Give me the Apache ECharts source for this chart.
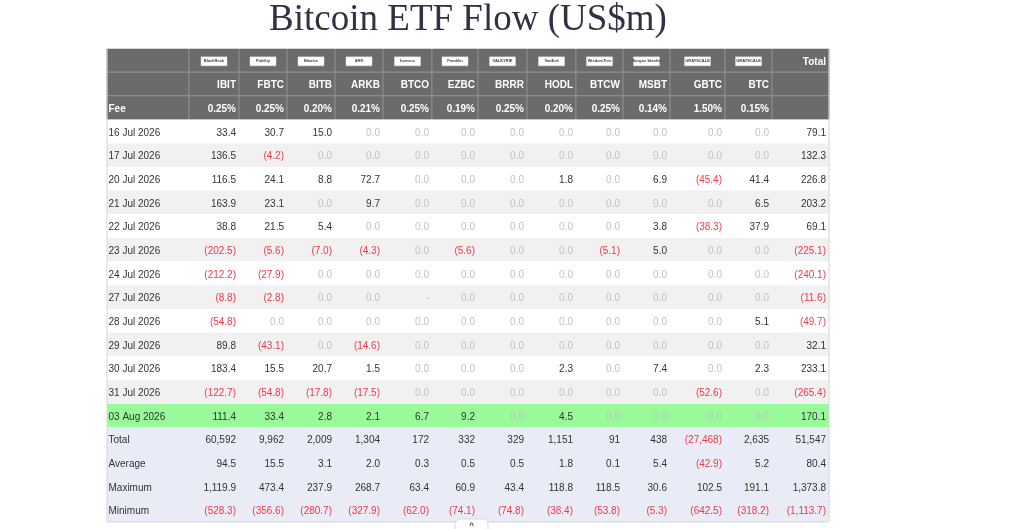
<!DOCTYPE html>
<html><head><meta charset="utf-8">
<script src="https://cdn.jsdelivr.net/npm/echarts/dist/echarts.min.js"></script>
<style>html,body{margin:0;padding:0;background:#fff}#main{width:1024px;height:529px}</style>
</head><body><div id="main"></div>
<script>
// ---------- DATA ----------
const tickers = ['IBIT','FBTC','BITB','ARKB','BTCO','EZBC','BRRR','HODL','BTCW','MSBT','GBTC','BTC'];
const issuers = ['BlackRock','Fidelity','Bitwise','ARK','Invesco','Franklin','VALKYRIE','VanEck','WisdomTree','Morgan Stanley','GRAYSCALE','GRAYSCALE'];
const fees = ['0.25%','0.25%','0.20%','0.21%','0.25%','0.19%','0.25%','0.20%','0.25%','0.14%','1.50%','0.15%'];
const dates = ['16 Jul 2026','17 Jul 2026','20 Jul 2026','21 Jul 2026','22 Jul 2026','23 Jul 2026','24 Jul 2026','27 Jul 2026','28 Jul 2026','29 Jul 2026','30 Jul 2026','31 Jul 2026','03 Aug 2026'];
// daily flows per ETF (US$m), one value per date; null = no data
const IBIT = [33.4, 136.5, 116.5, 163.9, 38.8, -202.5, -212.2, -8.8, -54.8, 89.8, 183.4, -122.7, 111.4];
const FBTC = [30.7, -4.2, 24.1, 23.1, 21.5, -5.6, -27.9, -2.8, 0, -43.1, 15.5, -54.8, 33.4];
const BITB = [15.0, 0, 8.8, 0, 5.4, -7.0, 0, 0, 0, 0, 20.7, -17.8, 2.8];
const ARKB = [0, 0, 72.7, 9.7, 0, -4.3, 0, 0, 0, -14.6, 1.5, -17.5, 2.1];
const BTCO = [0, 0, 0, 0, 0, 0, 0, null, 0, 0, 0, 0, 6.7];
const EZBC = [0, 0, 0, 0, 0, -5.6, 0, 0, 0, 0, 0, 0, 9.2];
const BRRR = [0, 0, 0, 0, 0, 0, 0, 0, 0, 0, 0, 0, 0];
const HODL = [0, 0, 1.8, 0, 0, 0, 0, 0, 0, 0, 2.3, 0, 4.5];
const BTCW = [0, 0, 0, 0, 0, -5.1, 0, 0, 0, 0, 0, 0, 0];
const MSBT = [0, 0, 6.9, 0, 3.8, 5.0, 0, 0, 0, 0, 7.4, 0, 0];
const GBTC = [0, 0, -45.4, 0, -38.3, 0, 0, 0, 0, 0, 0, -52.6, 0];
const BTC  = [0, 0, 41.4, 6.5, 37.9, 0, 0, 0, 5.1, 0, 2.3, 0, 0];
const dailyTotal = [79.1, 132.3, 226.8, 203.2, 69.1, -225.1, -240.1, -11.6, -49.7, 32.1, 233.1, -265.4, 170.1];
const summaryLabels = ['Total','Average','Maximum','Minimum'];
const sumTotal   = [60592, 9962, 2009, 1304, 172, 332, 329, 1151, 91, 438, -27468, 2635, 51547];
const sumAverage = [94.5, 15.5, 3.1, 2.0, 0.3, 0.5, 0.5, 1.8, 0.1, 5.4, -42.9, 5.2, 80.4];
const sumMaximum = [1119.9, 473.4, 237.9, 268.7, 63.4, 60.9, 43.4, 118.8, 118.5, 30.6, 102.5, 191.1, 1373.8];
const sumMinimum = [-528.3, -356.6, -280.7, -327.9, -62.0, -74.1, -74.8, -38.4, -53.8, -5.3, -642.5, -318.2, -1113.7];
const highlightDate = '03 Aug 2026';

// ---------- LAYOUT / STYLE ----------
const colWidths = [82, 50, 48, 48, 48, 49, 46, 49, 49, 47, 47, 55, 47, 57];
const FONT = '"Liberation Sans", Arial, Helvetica, sans-serif';
const C = {
  headBg: '#6b6b6b', headLine: '#8d8d8d', headText: '#ffffff',
  rowA: '#ffffff', rowB: '#f1f1f1', hi: '#99fa99', sum: '#e9ebf7',
  pos: '#333333', neg: '#f03a4a', zero: '#c2c2c2', label: '#333333'
};

// ---------- BUILD CELLS ----------
const etfSeries = [IBIT, FBTC, BITB, ARKB, BTCO, EZBC, BRRR, HODL, BTCW, MSBT, GBTC, BTC, dailyTotal];
const colEdges = [0];
colWidths.forEach(w => colEdges.push(colEdges[colEdges.length - 1] + w));
const rowNames = ['logo', 'ticker', 'fee'].concat(dates, summaryLabels.map(s => 'sum_' + s));

function fmt(v, dec) {
  if (v === null || v === undefined) return '-';
  const s = Math.abs(v).toLocaleString('en-US', {minimumFractionDigits: dec, maximumFractionDigits: dec});
  return v < 0 ? '(' + s + ')' : s;
}
function col(v) {
  if (v === null || v === undefined || v === 0) return C.zero;
  return v < 0 ? C.neg : C.pos;
}

const cells = [];
function add(c, r, meta) { cells.push(Object.assign({c, r}, meta)); }

// header rows
for (let c = 0; c < colWidths.length; c++) {
  const head = {bg: C.headBg, stroke: C.headLine};
  if (c >= 1 && c <= 12) add(c, 0, Object.assign({logo: issuers[c - 1]}, head));
  else if (c === 13) add(c, 0, Object.assign({text: 'Total', color: C.headText, bold: true, align: 'right'}, head));
  else add(c, 0, head);
  if (c >= 1 && c <= 12) add(c, 1, Object.assign({text: tickers[c - 1], color: C.headText, bold: true, align: 'right'}, head));
  else add(c, 1, head);
  if (c === 0) add(c, 2, Object.assign({text: 'Fee', color: C.headText, bold: true, align: 'left'}, head));
  else if (c <= 12) add(c, 2, Object.assign({text: fees[c - 1], color: C.headText, bold: true, align: 'right'}, head));
  else add(c, 2, head);
}
// daily rows
dates.forEach((d, i) => {
  const r = 3 + i;
  const bg = d === highlightDate ? C.hi : (i % 2 === 0 ? C.rowA : C.rowB);
  add(0, r, {bg, text: d, color: C.label, align: 'left'});
  etfSeries.forEach((arr, j) => {
    const v = arr[i];
    add(j + 1, r, {bg, text: fmt(v, 1), color: col(v), align: 'right'});
  });
});
// summary rows
[sumTotal, sumAverage, sumMaximum, sumMinimum].forEach((arr, i) => {
  const r = 3 + dates.length + i;
  add(0, r, {bg: C.sum, text: summaryLabels[i], color: C.label, align: 'left'});
  arr.forEach((v, j) => {
    add(j + 1, r, {bg: C.sum, text: fmt(v, i === 0 ? 0 : 1), color: col(v), align: 'right'});
  });
});

const cellData = cells.map(m => [colEdges[m.c], colEdges[m.c + 1], m.r]);

function renderCell(params, api) {
  const m = cells[params.dataIndex];
  const p0 = api.coord([api.value(0), api.value(2)]);
  const p1 = api.coord([api.value(1), api.value(2)]);
  const h = api.size([0, 1])[1];
  const x = p0[0], w = p1[0] - p0[0], y = p0[1] - h / 2;
  const children = [{
    type: 'rect', shape: {x, y, width: w, height: h},
    style: {fill: m.bg, stroke: m.stroke || null, lineWidth: m.stroke ? 1 : 0}
  }];
  if (m.logo) {
    const lw = 26, lh = 9, cx = x + w / 2, cy = y + h / 2 + 1;
    children.push({type: 'rect', shape: {x: cx - lw / 2, y: cy - lh / 2, width: lw, height: lh},
      style: {fill: '#ffffff', stroke: '#dddddd', lineWidth: 0.5}});
    children.push({type: 'text', style: {x: cx, y: cy, text: m.logo, align: 'center', verticalAlign: 'middle',
      fill: '#3a3a5a', font: 'bold 4px ' + FONT}});
  }
  if (m.text) {
    children.push({type: 'text', style: {
      x: m.align === 'left' ? x + 1.5 : x + w - 3, y: y + h / 2 + 1.5,
      text: m.text, align: m.align, verticalAlign: 'middle', fill: m.color,
      font: (m.bold ? 'bold ' : 'normal ') + '10px ' + FONT
    }});
  }
  return {type: 'group', children};
}

function renderBorder(params, api) {
  const p0 = api.coord([api.value(0), api.value(2)]);
  const p1 = api.coord([api.value(1), api.value(3)]);
  const h = api.size([0, 1])[1];
  return {type: 'rect', shape: {x: p0[0], y: p0[1] - h / 2, width: p1[0] - p0[0], height: p1[1] - p0[1] + h},
    style: {fill: null, stroke: '#d6d6d6', lineWidth: 1}};
}

const chart = echarts.init(document.getElementById('main'), null, {renderer: 'canvas'});
chart.setOption({
  backgroundColor: '#ffffff',
  animation: false,
  grid: {left: 107, right: 195, top: 48.5, bottom: 7},
  xAxis: {type: 'value', min: 0, max: colEdges[colEdges.length - 1], show: false},
  yAxis: {type: 'category', data: rowNames, inverse: true, show: false},
  graphic: [
    {type: 'text', x: 468, y: 20, style: {text: 'Bitcoin ETF Flow (US$m)', align: 'center', verticalAlign: 'middle',
      font: 'normal 37px "Liberation Serif", "Times New Roman", serif', fill: '#2e3244'}},
    {type: 'rect', shape: {x: 455, y: 519, width: 33, height: 22, r: 5}, z: 100,
      style: {fill: '#ffffff', stroke: '#d9d9d9', lineWidth: 1}},
    {type: 'text', x: 471.5, y: 526, z: 101, style: {text: '^', align: 'center', verticalAlign: 'middle',
      font: 'bold 8px ' + FONT, fill: '#333'}}
  ],
  series: [
    {type: 'custom', renderItem: renderCell, data: cellData, encode: {x: [0, 1], y: 2}, silent: true, clip: false},
    {type: 'custom', renderItem: renderBorder, data: [[0, colEdges[colEdges.length - 1], 0, rowNames.length - 1]],
      encode: {x: [0, 1], y: [2, 3]}, silent: true, z: 5, clip: false}
  ]
});
</script></body></html>
